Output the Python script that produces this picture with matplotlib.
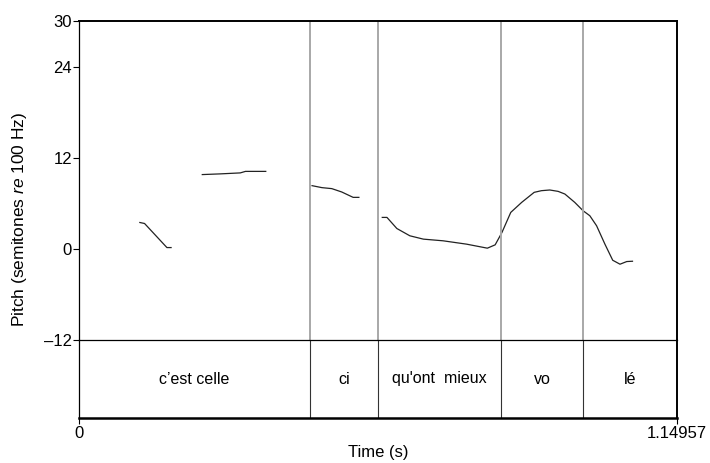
import matplotlib
matplotlib.use('Agg')
import matplotlib.pyplot as plt

plt.rcParams['font.family'] = ['Liberation Sans', 'DejaVu Sans']
plt.rcParams['mathtext.fontset'] = 'custom'
plt.rcParams['mathtext.rm'] = 'Liberation Sans'
plt.rcParams['mathtext.it'] = 'Liberation Sans:italic'

# pitch contour pieces (time in s, pitch in semitones re 100 Hz)
t1 = [0.117, 0.126, 0.169, 0.177]
p1 = [3.47, 3.34, 0.17, 0.17]
t2 = [0.237, 0.271, 0.310, 0.320, 0.359]
p2 = [9.78, 9.87, 10.0, 10.2, 10.2]
t3 = [0.448, 0.467, 0.486, 0.505, 0.527, 0.538]
p3 = [8.32, 8.06, 7.93, 7.49, 6.78, 6.78]
t4 = [0.583, 0.592, 0.611, 0.636, 0.662, 0.700, 0.745, 0.785, 0.800, 0.813,
      0.830, 0.851, 0.875, 0.889, 0.905, 0.921, 0.934, 0.953, 0.969, 0.982,
      0.995, 1.011, 1.026, 1.040, 1.053, 1.064]
p4 = [4.14, 4.14, 2.68, 1.72, 1.28, 1.06, 0.62, 0.09, 0.53, 2.15,
      4.8, 6.12, 7.44, 7.66, 7.75, 7.57, 7.22, 6.12, 5.02, 4.36,
      3.04, 0.62, -1.5, -2.02, -1.67, -1.63]

tmax = 1.14957
bounds = [0.444, 0.574, 0.811, 0.969]
words = ['c\u2019est celle', 'ci', "qu'ont  mieux", 'vo', 'l\u00e9']
yticks = [30, 24, 12, 0, -12]

fig = plt.figure(figsize=(7.10, 4.63), dpi=100)
ax = fig.add_axes([79/710, 1-340/463, 598/710, 319/463])
tier = fig.add_axes([79/710, 1-418/463, 598/710, 78/463])

for t, p in [(t1, p1), (t2, p2), (t3, p3), (t4, p4)]:
    ax.plot(t, p, color='#222222', lw=0.9)
for b in bounds:
    ax.axvline(b, color='#a8a8a8', lw=1.4)
ax.set_xlim(0, tmax)
ax.set_ylim(-12, 30)
ax.set_yticks(yticks)
ax.set_yticklabels([str(v).replace('-', '\u2013') for v in yticks])
ax.set_xticks([])
ax.tick_params(axis='y', direction='out', length=4, width=0.8, labelsize=12, pad=1)
for s in ['top', 'right']:
    ax.spines[s].set_linewidth(1.4)
ax.spines['left'].set_linewidth(0.9)
ax.spines['bottom'].set_visible(False)

edges = [0] + bounds + [tmax]
for b in bounds:
    tier.axvline(b, color='#333333', lw=0.8)
for i, w in enumerate(words):
    tier.text((edges[i] + edges[i+1]) / 2, 0.5, w, ha='center', va='center', fontsize=11.5)
tier.set_xlim(0, tmax)
tier.set_ylim(0, 1)
tier.set_yticks([])
tier.set_xticks([0, tmax])
tier.set_xticklabels(['0', '1.14957'])
tier.tick_params(axis='x', direction='out', length=4, width=0.8, labelsize=12, pad=2)
tier.spines['top'].set_linewidth(0.9)
tier.spines['bottom'].set_linewidth(1.8)
tier.spines['right'].set_linewidth(1.4)
tier.spines['left'].set_linewidth(0.9)
tier.set_xlabel('Time (s)', fontsize=12, labelpad=3)

fig.text(20/710, 1-219.5/463, 'Pitch (semitones $\\mathit{re}$ 100 Hz)', rotation=90,
         ha='center', va='center', fontsize=12.5)

fig.savefig('out.png', dpi=100)
